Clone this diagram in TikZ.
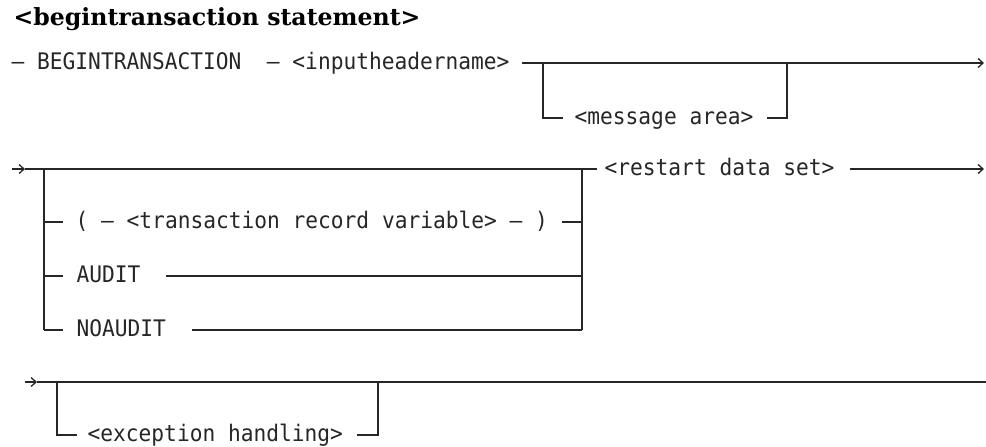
\documentclass[tikz,border=0pt]{standalone}
\usepackage{fontspec}
\setmonofont{DejaVu Sans Mono}[FakeStretch = 0.93]
\newfontfamily\headfont{DejaVu Serif}
\usetikzlibrary{arrows.meta}
\begin{document}
\begin{tikzpicture}[x = 1pt, y = -1pt, line width = 1.3pt, color = black!85,
		syn/.style = {font = \ttfamily\fontsize{22.8}{27}\selectfont, inner sep = 0pt, anchor = base west},
		flow/.style = {-{Straight Barb[length = 5pt, width = 9pt]}}]
		\useasboundingbox (0,0) rectangle (986,447);
		\node (title) at (13,25)[anchor = base west, inner sep = 0pt, text = black, font = \headfont\bfseries\fontsize{23.6}{28}\selectfont]{<begintransaction statement>};
		\coordinate (A) at (522,63);
		\coordinate (A1) at (543,63);
		\coordinate (A2) at (787,63);
		\coordinate (Aend) at (984,63);
		\coordinate (Am1) at (563,118);
		\coordinate (Am2) at (767,118);
		\node (head) at (11,69.5)[syn]{– BEGINTRANSACTION\ \ – <inputheadername>};
		\node (msg) at (574,124.5)[syn]{<message area>};
		\draw [flow] (A)--(Aend);
		\draw (A1) |- (Am1);
		\draw (Am2) -| (A2);
		\coordinate (B0) at (12,169);
		\coordinate (B) at (25,169);
		\coordinate (B1) at (44,169);
		\coordinate (B2) at (582,169);
		\coordinate (Bout) at (597,169);
		\coordinate (Bc) at (850,169);
		\coordinate (Bend) at (984,169);
		\draw [flow] (B0)--(B);
		\draw (B)--(Bout);
		\node (rds) at (604,175.5)[syn]{<restart data set>};
		\draw [flow] (Bc)--(Bend);
		\draw (B1)--(44,330);
		\draw (B2)--(582,330);
		\node (rec) at (75,228.5)[syn]{( – <transaction record variable> – )};
		\node (audit) at (76,282.5)[syn]{AUDIT};
		\node (noaudit) at (76,336.5)[syn]{NOAUDIT};
		\coordinate (R1) at (44,222);
		\coordinate (R2) at (44,276);
		\coordinate (R3) at (44,330);
		\draw (R1)--(63,222);
		\draw (562,222)--(582,222);
		\draw (R2)--(63,276);
		\draw (166,276)--(582,276);
		\draw (R3)--(63,330);
		\draw (192,330)--(582,330);
		\coordinate (C0) at (25,382);
		\coordinate (C) at (37,382);
		\coordinate (C1) at (57,382);
		\coordinate (C2) at (378,382);
		\coordinate (Cend) at (986,382);
		\coordinate (Cm1) at (77,435);
		\coordinate (Cm2) at (357,435);
		\draw [flow] (C0)--(C);
		\draw (C)--(Cend);
		\draw (C1) |- (Cm1);
		\draw (Cm2) -| (C2);
		\node (exc) at (87,441.5)[syn]{<exception handling>};
	\end{tikzpicture}
\end{document}
